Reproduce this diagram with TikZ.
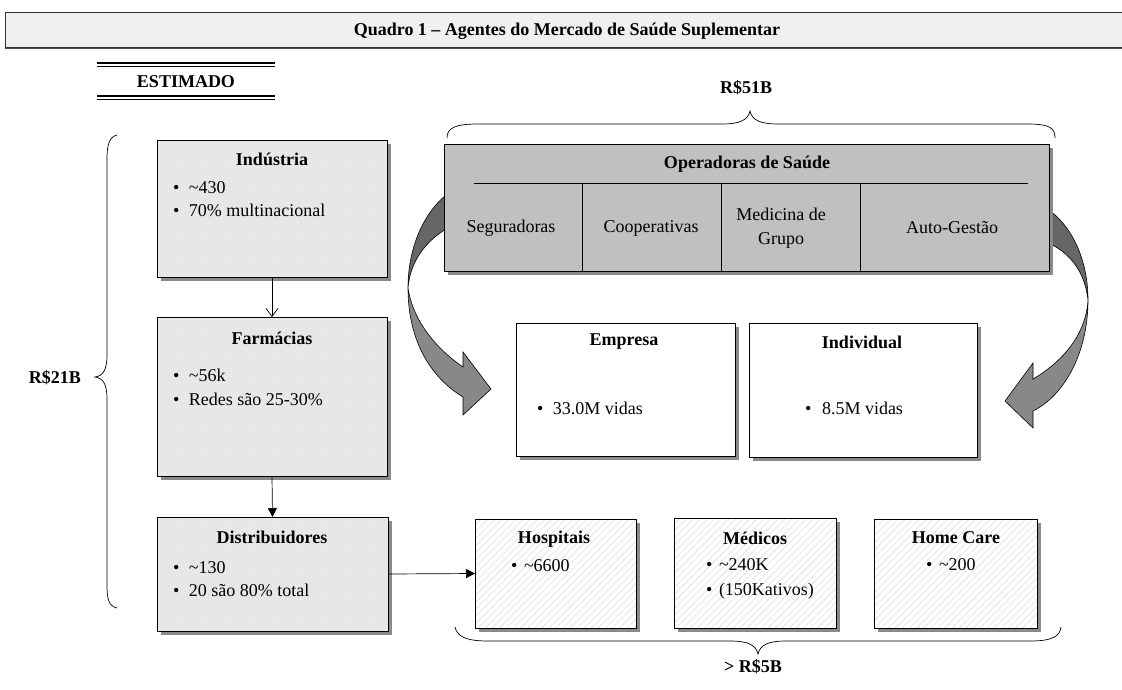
\documentclass[tikz,border=0pt]{standalone}
\usepackage{fontspec}
\setmainfont{Liberation Serif}
\usetikzlibrary{shadows,patterns.meta,arrows.meta}
\definecolor{opsfill}{HTML}{C0C0C0}
\definecolor{shadowc}{HTML}{8A8A8A}
\definecolor{lfill}{HTML}{E6E6E6}
\definecolor{adark}{HTML}{666666}
\definecolor{alight}{HTML}{888888}
\definecolor{titlefill}{HTML}{F0F0F0}
\newcommand\mybul[1][16pt]{\makebox[#1][l]{•}}
\begin{document}
\begin{tikzpicture}[x=1pt,y=-1pt,
  every node/.style={font=\fontsize{18}{24}\selectfont, inner sep=0pt, outer sep=0pt},
  bf/.style={font=\fontsize{18}{24}\selectfont\bfseries},
  shadowed/.style={drop shadow={shadow xshift=4pt, shadow yshift=-4pt, fill=shadowc, opacity=1}},
  boxbase/.style={shadowed, draw, line width=0.8pt, anchor=north west},
  lbox/.style={boxbase, preaction={fill=lfill}, pattern={Dots[distance=3pt, radius=0.45pt]}, pattern color=white},
  hbox/.style={boxbase, preaction={fill=white}, pattern={Lines[angle=45, distance=5pt, line width=0.6pt]}, pattern color=gray!25},
  wbox/.style={boxbase, fill=white},
  obox/.style={boxbase, fill=opsfill},
  conn/.style={line width=0.7pt},
  ribbon/.style={draw=black, line width=0.6pt},
  brace/.style={line width=0.7pt},
  rule/.style={line width=1.1pt},
  bl/.style={anchor=mid west},
]
\useasboundingbox (0,0) rectangle (1122,689);

% title bar
\node[draw=black!80, line width=0.8pt, fill=titlefill, anchor=north west, minimum width=1125, minimum height=35,
  drop shadow={shadow xshift=0pt, shadow yshift=-2pt, fill=black!70, opacity=1}] (titlebox) at (5,12) {};
\node[bf] (title) at (567,31) {Quadro 1 – Agentes do Mercado de Saúde Suplementar};

% ESTIMADO
\draw[rule] (97,63) -- (275,63);
\draw[rule] (97,66.5) -- (275,66.5);
\draw[rule] (97,96) -- (275,96);
\draw[rule] (97,99.5) -- (275,99.5);
\node[bf] (estimado) at (186,82) {ESTIMADO};

% braces
\node[bf] (r51) at (746,88) {R\$51B};
\draw[brace] (447,138) .. controls (447,128) and (455,124) .. (478,124) -- (722,124)
  .. controls (740,124) and (748,120) .. (750,111)
  .. controls (752,120) and (760,124) .. (778,124) -- (1027,124)
  .. controls (1050,124) and (1055,128) .. (1055,138);
\node[bf] (r21) at (55,378) {R\$21B};
\draw[brace] (117,135) .. controls (109,137) and (107,145) .. (107,160) -- (107,355)
  .. controls (107,370) and (103,376) .. (95,377)
  .. controls (103,378) and (107,384) .. (107,399) -- (107,585)
  .. controls (107,600) and (109,606) .. (117,608);
\node[bf] (r5) at (753,667) {> R\$5B};
\draw[brace] (455,627) .. controls (457,636) and (465,641) .. (488,641) -- (730,641)
  .. controls (748,641) and (756,645) .. (758,654)
  .. controls (760,645) and (768,641) .. (786,641) -- (1030,641)
  .. controls (1053,641) and (1060,636) .. (1061,627);

% left column
\node[lbox, minimum width=230, minimum height=137] (ind) at (157,140) {};
\node[bf] (indt) at (272,159) {Indústria};
\node[bl] (ind1) at (173,191) {\mybul\textasciitilde430};
\node[bl] (ind2) at (173,214) {\mybul 70\% multinacional};

\node[lbox, minimum width=230, minimum height=159] (farm) at (157,317) {};
\node[bf] (farmt) at (272,338) {Farmácias};
\node[bl] (farm1) at (173,379) {\mybul\textasciitilde56k};
\node[bl] (farm2) at (173,403) {\mybul Redes são 25-30\%};

\node[lbox, minimum width=231, minimum height=114] (dist) at (157,517) {};
\node[bf] (distt) at (272,537) {Distribuidores};
\node[bl] (dist1) at (173,571) {\mybul\textasciitilde130};
\node[bl] (dist2) at (173,594) {\mybul 20 são 80\% total};

% curved ribbon arrows (behind operadoras)
\filldraw[ribbon, fill=adark] (446,195) .. controls (422,215) and (408,250) .. (408,288)
  .. controls (410,262) and (425,242) .. (446,229) -- cycle;
\filldraw[ribbon, fill=alight] (408,288) .. controls (408,340) and (430,377) .. (463,397)
  -- (463,415) -- (491,389) -- (463,352) -- (463,367)
  .. controls (438,350) and (413,322) .. (408,288) -- cycle;
\filldraw[ribbon, fill=adark] (1046,208) .. controls (1072,225) and (1088,260) .. (1088,300)
  .. controls (1085,272) and (1070,252) .. (1046,242) -- cycle;
\filldraw[ribbon, fill=alight] (1088,300) .. controls (1088,352) and (1065,395) .. (1033,411)
  -- (1033,428) -- (1005,401) -- (1033,363) -- (1033,379)
  .. controls (1062,362) and (1086,335) .. (1088,300) -- cycle;

% operadoras
\node[obox, minimum width=605, minimum height=127] (ops) at (444,144) {};
\node[bf] (opst) at (747,164) {Operadoras de Saúde};
\coordinate (d0l) at (474,183);
\coordinate (d0r) at (1028,183);
\coordinate (d1) at (582,183);
\coordinate (d2) at (721,183);
\coordinate (d3) at (860,183);
\draw[conn] (d0l) -- (d0r);
\draw[conn] (d1) -- (d1 |- ops.south);
\draw[conn] (d2) -- (d2 |- ops.south);
\draw[conn] (d3) -- (d3 |- ops.south);
\node (seg) at (511,228) {Seguradoras};
\node (coop) at (651,228) {Cooperativas};
\node[align=center] (medg) at (781,228) {Medicina de\\Grupo};
\node (auto) at (952,228) {Auto-Gestão};

% empresa / individual
\node[wbox, minimum width=219, minimum height=133] (emp) at (516,323) {};
\node[bf] (empt) at (624,342) {Empresa};
\node[bl] (emp1) at (537,412) {\mybul 33.0M vidas};
\node[wbox, minimum width=228, minimum height=134] (indiv) at (749,323) {};
\node[bf] (indivt) at (862,342) {Individual};
\node[bl] (indiv1) at (805,412) {\mybul[17pt]8.5M vidas};

% bottom row
\node[hbox, minimum width=161, minimum height=109] (hosp) at (475,519) {};
\node[bf] (hospt) at (554,539) {Hospitais};
\node[bl] (hosp1) at (511,569) {\mybul[13pt]\textasciitilde6600};
\node[hbox, minimum width=162, minimum height=110] (med) at (674,518) {};
\node[bf] (medt) at (755,538) {Médicos};
\node[bl] (med1) at (706,568) {\mybul[13pt]\textasciitilde240K};
\node[bl] (med2) at (706,593) {\mybul[13pt](150Kativos)};
\node[hbox, minimum width=163, minimum height=109] (home) at (874,519) {};
\node[bf] (homet) at (956,538) {Home Care};
\node[bl] (home1) at (926,568) {\mybul[13pt]\textasciitilde200};

% connectors
\draw[conn, -{Straight Barb[length=8pt, width=12pt]}] (ind.south) -- (farm.north);
\draw[conn, -{Triangle[length=9pt, width=9pt]}] (farm.south) -- (dist.north);
\draw[conn, -{Triangle[length=9pt, width=9pt]}] (dist.east) -- (hosp.west);
\end{tikzpicture}
\end{document}
